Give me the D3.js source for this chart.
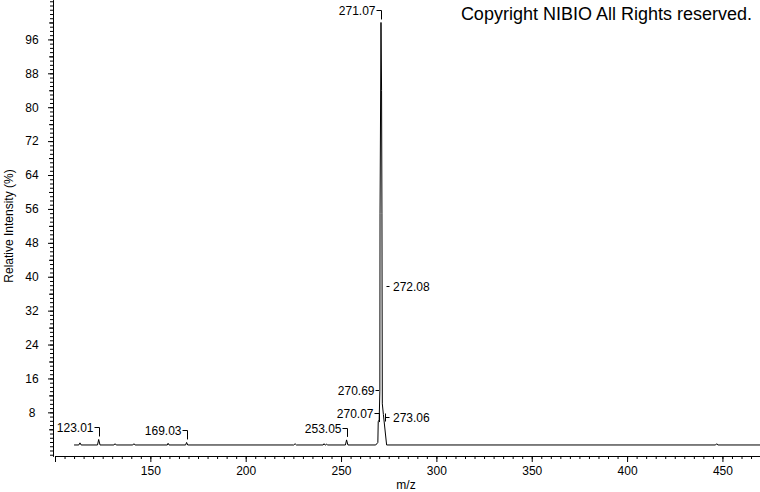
<!DOCTYPE html>
<html>
<head>
<meta charset="UTF-8">
<title>Mass spectrum</title>
<script src="https://d3js.org/d3.v7.min.js"></script>
<style>
  body { margin: 0; background: #fff; }
  svg text { font-family: Arial, "Liberation Sans", sans-serif; fill: #000; }
</style>
</head>
<body>
<svg id="spectrum" width="760" height="492"></svg>
<script>
// tick labels
let yTicks = [8, 16, 24, 32, 40, 48, 56, 64, 72, 80, 88, 96];
let xTicks = [150, 200, 250, 300, 350, 400, 450];

// profile: m/z and relative intensity (%)
let profileMz = [110.0, 112.5, 113.1, 113.7, 122.3, 122.9, 123.6, 130.9, 131.5, 132.1,
    140.8, 141.4, 142.0, 158.9, 159.3, 159.8, 168.5, 169.0, 169.6, 225.2, 225.9, 226.6,
    240.6, 241.1, 241.6, 242.0, 242.5, 243.0, 252.3, 252.9, 253.6,
    268.2, 269.3, 269.5, 270.0, 270.35, 270.45, 270.95, 271.25, 271.45, 271.65, 272.2, 273.9,
    446.4, 447.0, 447.6, 469.7];
let profileInt = [0.3, 0.3, 0.8, 0.3, 0.3, 1.6, 0.3, 0.3, 0.6, 0.3,
    0.3, 0.6, 0.3, 0.3, 0.7, 0.3, 0.3, 0.9, 0.3, 0.3, 0.6, 0.3,
    0.3, 0.6, 0.3, 0.3, 0.5, 0.3, 0.3, 1.5, 0.3,
    0.3, 0.9, 5.8, 6.2, 13, 55, 100, 84, 55, 10, 7.5, 0.3,
    0.3, 0.6, 0.3, 0.3];

// annotated peaks
let peakMz = [123.01, 169.03, 253.05, 270.07, 270.69, 271.07, 272.08, 273.06];
let peakInt = [1.6, 0.9, 1.5, 5, 13.3, 100, 37.8, 7];
let peakSide = ["left", "left", "left", "left", "dash", "left", "right", "bar"];

let svg = d3.select("svg#spectrum");
svg.append("rect").attr("width", 760).attr("height", 492).attr("fill", "#fff");

let x = d3.scaleLinear().domain([100, 469.7]).range([55, 760]);
let y = d3.scaleLinear().domain([-2.3, 105.3]).range([456, 0]);

// Y axis: minor, mid and major ticks
let yAxisG = svg.append("g").attr("transform", "translate(53,0)");
yAxisG.append("g").call(d3.axisLeft(y).tickValues(d3.range(-2, 106)).tickSize(3).tickSizeOuter(0).tickFormat(""));
yAxisG.append("g").call(d3.axisLeft(y).tickValues(d3.range(4, 105, 8)).tickSize(4).tickSizeOuter(0).tickFormat(""));
yAxisG.append("g").call(d3.axisLeft(y).tickValues(yTicks).tickSize(5).tickSizeOuter(0).tickPadding(10));
yAxisG.selectAll("text")
    .attr("font-family", null).attr("font-size", 12)
    .attr("text-anchor", "middle").attr("x", -21);

// X axis
let xAxisG = svg.append("g").attr("transform", "translate(0,456)");
xAxisG.append("g").call(d3.axisBottom(x).tickValues(d3.range(100, 470, 5)).tickSize(3).tickSizeOuter(0).tickFormat(""));
xAxisG.append("g").call(d3.axisBottom(x).tickValues([100].concat(xTicks)).tickSize(6).tickSizeOuter(0)
    .tickPadding(4).tickFormat(d => d === 100 ? "" : d));
xAxisG.selectAll("text").attr("font-family", null).attr("font-size", 12);
svg.selectAll(".domain").attr("stroke", "#000");
svg.selectAll(".tick line").attr("stroke", "#000");

// axis titles
svg.append("text")
    .attr("transform", "translate(9,226) rotate(-90)")
    .attr("dy", "0.35em")
    .attr("text-anchor", "middle")
    .attr("font-size", 12)
    .text("Relative Intensity (%)");
svg.append("text")
    .attr("x", 406).attr("y", 485).attr("dy", "0.35em")
    .attr("text-anchor", "middle")
    .attr("font-size", 12)
    .text("m/z");

// spectrum trace
let profile = profileMz.map((m, i) => [m, profileInt[i]]);
svg.append("path")
    .datum(profile)
    .attr("fill", "none")
    .attr("stroke", "#000")
    .attr("stroke-width", 1)
    .attr("d", d3.line().x(d => x(d[0])).y(d => y(d[1])));

// peak labels
let labels = svg.append("g").attr("id", "peak-labels");
peakMz.forEach((m, i) => {
    let px = Math.round(x(m)) + 0.5;
    let py = y(peakInt[i]);
    let side = peakSide[i];
    let path, tx, ty, anchor;
    if (side === "left") {
        let bottom = py - 3, top = Math.round(bottom - 9) + 0.5;
        path = `M${px},${bottom}V${top}H${px - 5}`;
        tx = px - 6; ty = top; anchor = "end";
    } else if (side === "dash") {
        let yy = Math.round(py) + 0.5;
        path = `M${px - 1.5},${yy}H${px - 5}`;
        tx = px - 6; ty = yy; anchor = "end";
    } else if (side === "right") {
        let yy = Math.round(py) + 0.5;
        path = `M${px + 3},${yy}H${px + 6}`;
        tx = px + 9.5; ty = yy; anchor = "start";
    } else {
        let yy = Math.round(py) + 0.5;
        path = `M${px},${yy - 4}V${yy + 4}M${px},${yy}H${px + 4}`;
        tx = px + 7.5; ty = yy; anchor = "start";
    }
    labels.append("path").attr("d", path).attr("fill", "none").attr("stroke", "#000").attr("stroke-width", 1);
    labels.append("text")
        .attr("x", tx).attr("y", ty).attr("dy", "0.35em")
        .attr("text-anchor", anchor)
        .attr("font-size", 12)
        .text(m.toFixed(2));
});

// copyright
svg.append("text")
    .attr("x", 752).attr("y", 20)
    .attr("text-anchor", "end")
    .attr("font-size", 18)
    .text("Copyright NIBIO All Rights reserved.");
</script>
</body>
</html>
